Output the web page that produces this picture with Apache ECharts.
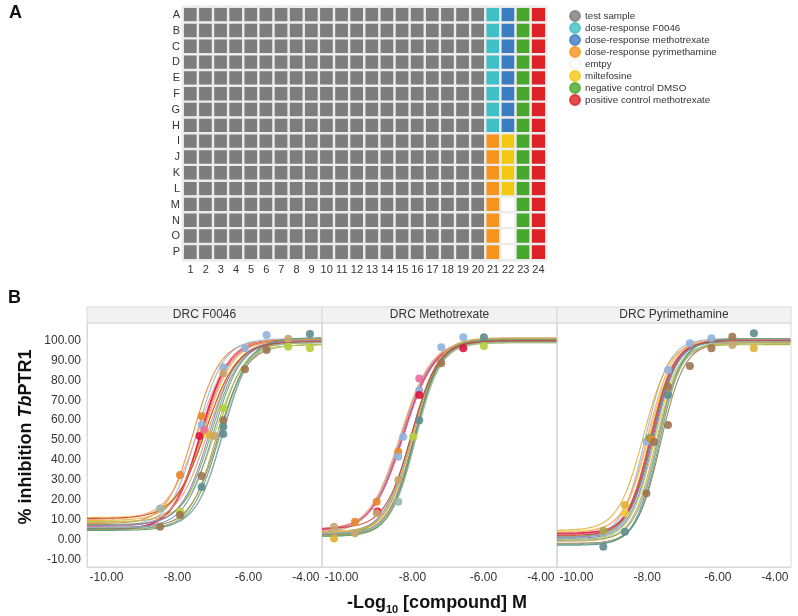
<!DOCTYPE html>
<html><head><meta charset="utf-8">
<script src="https://cdn.jsdelivr.net/npm/echarts@6/dist/echarts.min.js"></script>
<style>html,body{margin:0;padding:0;background:#fff}#c{width:798px;height:616px}</style>
</head><body><div id="c"></div>
<script>
// ================= Panel A : 384-well plate layout =================
const plateRows = ['A','B','C','D','E','F','G','H','I','J','K','L','M','N','O','P'];
const plateCols = ['1','2','3','4','5','6','7','8','9','10','11','12','13','14','15','16','17','18','19','20','21','22','23','24'];
const plateCategories = ['test sample','dose-response F0046','dose-response methotrexate','dose-response pyrimethamine','emtpy','miltefosine','negative control DMSO','positive control methotrexate'];
// one string per row, one code per column: T test, F F0046, M methotrexate DRC, P pyrimethamine DRC, E empty, L miltefosine, N DMSO, X positive control
const plateLayout = [
  'TTTTTTTTTTTTTTTTTTTTFMNX','TTTTTTTTTTTTTTTTTTTTFMNX','TTTTTTTTTTTTTTTTTTTTFMNX','TTTTTTTTTTTTTTTTTTTTFMNX',
  'TTTTTTTTTTTTTTTTTTTTFMNX','TTTTTTTTTTTTTTTTTTTTFMNX','TTTTTTTTTTTTTTTTTTTTFMNX','TTTTTTTTTTTTTTTTTTTTFMNX',
  'TTTTTTTTTTTTTTTTTTTTPLNX','TTTTTTTTTTTTTTTTTTTTPLNX','TTTTTTTTTTTTTTTTTTTTPLNX','TTTTTTTTTTTTTTTTTTTTPLNX',
  'TTTTTTTTTTTTTTTTTTTTPENX','TTTTTTTTTTTTTTTTTTTTPENX','TTTTTTTTTTTTTTTTTTTTPENX','TTTTTTTTTTTTTTTTTTTTPENX'
];
const layoutCodes = ['T','F','M','P','E','L','N','X'];

// ================= Panel B : dose-response curves =================
const panelTitles = ['DRC F0046','DRC Methotrexate','DRC Pyrimethamine'];
const xTickValues = [-10, -8, -6, -4];
const yTickValues = [-10, 0, 10, 20, 30, 40, 50, 60, 70, 80, 90, 100];

// fitted 4-parameter logistic curves (bottom, top, logIC50, hill)
const f0046Bottom  = [8, 5, 7, 6, 5.5, 9, 11, 6.5, 7.5, 8.5, 10, 6, 5, 9.5, 7, 4.5, 10.5, 6];
const f0046Top     = [100, 100.5, 101, 98, 101, 98, 100, 100, 99.5, 99, 101, 100, 99, 100.5, 100, 101.5, 99.5, 99];
const f0046LogIC50 = [-7.55, -7.35, -7.45, -6.85, -6.72, -6.95, -7.2, -7.3, -7.05, -7.15, -7.4, -7.0, -6.9, -7.25, -7.1, -6.8, -7.2, -6.75];
const f0046Hill    = [1.15, 1.1, 1.15, 1.1, 1.15, 1.05, 1.0, 1.1, 1.1, 1.05, 1.0, 1.1, 1.15, 1.05, 1.1, 1.1, 1.0, 1.2];

const mtxBottom  = [3, 4.5, 3.5, 2, 2.5, 1.5, 3, 5, 2.5, 4, 4, 3, 2, 3.5, 2.5, 1.5, 5.5, 3];
const mtxTop     = [100.5, 100, 101, 100, 101, 99, 100.5, 100, 99.5, 101.5, 100, 100, 99.5, 101, 100, 100.5, 100, 99];
const mtxLogIC50 = [-8.33, -8.27, -8.3, -7.95, -7.93, -7.97, -8.0, -8.25, -8.02, -7.98, -8.35, -8.05, -7.92, -8.0, -7.96, -7.94, -8.03, -7.9];
const mtxHill    = [1.0, 1.0, 0.98, 1.2, 1.25, 1.2, 1.2, 1.0, 1.15, 1.2, 1.0, 1.15, 1.25, 1.2, 1.2, 1.25, 1.15, 1.25];

const pyrBottom  = [2, 3, 1, -2, -3, 0, 4, 2.5, 1.5, -1, 3.5, 0.5, -0.5, 4.5, 1, -2.5, 2, 0];
const pyrTop     = [100, 100, 101, 99, 100.5, 98.5, 100, 100.5, 99.5, 99, 101, 100, 98, 100, 100, 101, 100, 99.5];
const pyrLogIC50 = [-7.92, -7.85, -8.05, -7.62, -7.7, -7.8, -7.95, -7.9, -7.88, -7.75, -7.98, -7.82, -7.72, -8.1, -7.86, -7.65, -7.9, -7.68];
const pyrHill    = [1.3, 1.3, 1.3, 1.3, 1.35, 1.3, 1.25, 1.3, 1.3, 1.3, 1.25, 1.3, 1.35, 1.2, 1.3, 1.35, 1.3, 1.3];

// visible measured points / IC50 markers: [log10 conc, % inhibition, curve index]
const f0046Points = [
  [-8.49, 15.6, 17], [-8.49, 6.4, 3], [-7.93, 32.4, 0], [-7.93, 14, 5], [-7.93, 12.3, 3],
  [-7.32, 62, 0], [-7.32, 57.6, 2], [-7.32, 53, 6], [-7.38, 52, 1], [-7.25, 55, 7],
  [-7.32, 31.9, 3], [-7.32, 26.4, 4], [-7.1, 52.5, 13], [-6.95, 52, 9],
  [-6.71, 86.6, 2], [-6.71, 83.6, 9], [-6.71, 66, 5], [-6.71, 60, 3], [-6.71, 56.7, 4], [-6.71, 53, 4],
  [-6.10, 96.2, 2], [-6.10, 85.6, 3], [-5.49, 102.9, 2], [-5.49, 95.3, 3],
  [-4.88, 101, 9], [-4.88, 97, 5], [-4.27, 103.4, 4], [-4.27, 96.2, 5]
];
const mtxPoints = [
  [-10.21, 6.4, 9], [-10.21, 0.5, 13], [-9.62, 8.9, 0], [-9.62, 3.1, 9],
  [-9.01, 19, 0], [-8.99, 14, 1], [-9.01, 13.1, 9],
  [-8.40, 44.1, 0], [-8.40, 41.6, 2], [-8.40, 29.9, 9], [-8.40, 19, 17],
  [-8.26, 51.7, 2], [-7.98, 51.7, 5],
  [-7.81, 81, 7], [-7.81, 75, 2], [-7.81, 72.7, 1], [-7.81, 60, 4],
  [-7.19, 96.7, 2], [-7.19, 88.6, 3], [-6.57, 101.7, 2], [-6.57, 96.2, 1],
  [-5.99, 101.7, 4], [-5.99, 97.3, 5]
];
const pyrPoints = [
  [-9.24, 4.4, 12], [-9.24, -3.7, 4], [-8.63, 17.3, 13], [-8.63, 13.1, 6], [-8.63, 3.9, 4],
  [-8.02, 49.2, 2], [-7.93, 51, 8], [-7.88, 50.5, 0], [-7.8, 49, 3], [-8.02, 23.2, 3],
  [-7.41, 85.3, 2], [-7.41, 76.8, 3], [-7.41, 72.7, 4], [-7.41, 57.6, 3],
  [-6.79, 98.7, 2], [-6.79, 87.3, 3], [-6.18, 101.2, 2], [-6.18, 96.2, 3],
  [-5.59, 102, 3], [-5.59, 97.8, 9], [-4.98, 103.7, 4], [-4.98, 96.2, 13]
];

// ================= styles =================
const FONT = '"Liberation Sans", Arial, sans-serif';
const plateColors = ['#7d7d7d', '#3fbfc6', '#3c7dbf', '#f7941d', '#ffffff', '#f2c811', '#48a82d', '#dc2127'];
const curveColors = ['#e8872a', '#dc143c', '#8fb4dc', '#9c7650', '#5f8c8e', '#b5cf3a', '#f0c93a', '#ea6a9a', '#6aa84f',
                     '#c9a46e', '#f4a27a', '#6a8fc0', '#a8a84a', '#e0b030', '#9a7ab0', '#4f9a7a', '#c8423e', '#9ab8a8'];
const X_MIN = -10.55, X_MAX = -3.93, Y_MIN = -13.9, Y_MAX = 108.9;
const panelBoxes = [{left: 87, width: 235}, {left: 322, width: 235}, {left: 557, width: 234}];
const PANEL_TOP = 323, PANEL_H = 244;

// ================= build options =================
const heatData = [];
plateLayout.forEach((row, r) => {
  for (let c = 0; c < row.length; c++) heatData.push([c, r, layoutCodes.indexOf(row[c])]);
});

const grids = [{left: 183, top: 7, width: 363, height: 253}];
const xAxes = [{
  type: 'category', data: plateCols, gridIndex: 0, position: 'bottom',
  axisLine: {show: false}, axisTick: {show: false}, splitLine: {show: false},
  axisLabel: {fontSize: 11, color: '#333', margin: 4, fontFamily: FONT, interval: 0}
}];
const yAxes = [{
  type: 'category', data: plateRows, gridIndex: 0, inverse: true,
  axisLine: {show: false}, axisTick: {show: false}, splitLine: {show: false},
  axisLabel: {fontSize: 11, color: '#333', margin: 3, fontFamily: FONT, interval: 0}
}];
const series = [{
  type: 'heatmap', xAxisIndex: 0, yAxisIndex: 0, data: heatData,
  itemStyle: {borderColor: '#ececec', borderWidth: 2.4},
  emphasis: {disabled: true}, silent: true
}];
// legend entries (empty series, only for the legend)
plateCategories.forEach((name, i) => {
  series.push({
    type: 'scatter', name: name, xAxisIndex: 0, yAxisIndex: 0, data: [],
    itemStyle: {color: plateColors[i], borderColor: i === 4 ? '#eeeeee' : plateColors[i], borderWidth: 1}
  });
});

const panels = [
  {bottom: f0046Bottom, top: f0046Top, ic50: f0046LogIC50, hill: f0046Hill, points: f0046Points},
  {bottom: mtxBottom, top: mtxTop, ic50: mtxLogIC50, hill: mtxHill, points: mtxPoints},
  {bottom: pyrBottom, top: pyrTop, ic50: pyrLogIC50, hill: pyrHill, points: pyrPoints}
];
const graphics = [
  {type: 'text', left: 9, top: 4, style: {text: 'A', font: 'bold 18px ' + FONT, fill: '#111'}},
  {type: 'text', left: 8, top: 289, style: {text: 'B', font: 'bold 18px ' + FONT, fill: '#111'}}
];

panels.forEach((p, k) => {
  const gi = k + 1;
  const box = panelBoxes[k];
  grids.push({left: box.left, top: PANEL_TOP, width: box.width, height: PANEL_H,
              show: true, borderColor: '#d9d9d9', borderWidth: 1, backgroundColor: '#fff'});
  xAxes.push({
    type: 'value', gridIndex: gi, min: X_MIN, max: X_MAX,
    axisLine: {show: true, onZero: false, lineStyle: {color: '#d9d9d9'}}, axisTick: {show: false}, splitLine: {show: false},
    axisLabel: {customValues: xTickValues, formatter: v => v.toFixed(2), fontSize: 12, color: '#333',
                margin: 5, fontFamily: FONT, alignMaxLabel: 'right'}
  });
  yAxes.push({
    type: 'value', gridIndex: gi, min: Y_MIN, max: Y_MAX,
    axisLine: {show: true, onZero: false, lineStyle: {color: '#d9d9d9'}}, axisTick: {show: false}, splitLine: {show: false},
    axisLabel: k === 0 ? {customValues: yTickValues, formatter: v => v.toFixed(2), fontSize: 12, color: '#333',
                          margin: 6, fontFamily: FONT} : {show: false}
  });
  // fitted curves: evaluate each curve's 4PL model across the axis range
  p.bottom.forEach((b, i) => {
    const pts = [];
    for (let x = X_MIN; x <= X_MAX + 1e-9; x += 0.04) {
      const y = b + (p.top[i] - b) / (1 + Math.pow(10, p.hill[i] * (p.ic50[i] - x)));
      pts.push([x, y]);
    }
    series.push({
      type: 'line', xAxisIndex: gi, yAxisIndex: gi, data: pts, showSymbol: false, silent: true,
      lineStyle: {color: curveColors[i], width: (i === 1 ? 2 : 1.1), opacity: 0.9}, z: 2
    });
  });
  series.push({
    type: 'scatter', xAxisIndex: gi, yAxisIndex: gi, symbolSize: 8, silent: true, z: 3,
    data: p.points.map(d => ({value: [d[0], d[1]], itemStyle: {color: curveColors[d[2]], opacity: 0.9}}))
  });
  // panel header strip
  graphics.push({type: 'rect', shape: {x: box.left, y: 307, width: box.width, height: 16},
                 style: {fill: '#f2f2f2', stroke: '#d9d9d9', lineWidth: 1}, silent: true});
  graphics.push({type: 'text', x: box.left + box.width / 2, y: 315,
                 style: {text: panelTitles[k], font: '12px ' + FONT, fill: '#333', align: 'center', verticalAlign: 'middle'}});
});

graphics.push({
  type: 'text', x: 26, y: 437, rotation: Math.PI / 2,
  style: {
    text: '{n|% inhibition }{i|Tb}{n|PTR1}', align: 'center', verticalAlign: 'middle',
    rich: {n: {font: 'bold 18px ' + FONT, fill: '#111'}, i: {font: 'italic bold 18px ' + FONT, fill: '#111'}}
  }
});
graphics.push({
  type: 'text', x: 437, y: 603,
  style: {
    text: '{n|-Log}{s|10}{n| [compound] M}', align: 'center', verticalAlign: 'middle',
    rich: {n: {font: 'bold 18px ' + FONT, fill: '#111', lineHeight: 24},
           s: {font: 'bold 11px ' + FONT, fill: '#111', verticalAlign: 'bottom', lineHeight: 24, padding: [8, 0, 0, 0]}}
  }
});

const option = {
  animation: false,
  backgroundColor: '#ffffff',
  textStyle: {fontFamily: FONT},
  grid: grids.map(g => Object.assign({outerBoundsMode: 'none'}, g)),
  xAxis: xAxes,
  yAxis: yAxes,
  visualMap: {
    type: 'piecewise', show: false, seriesIndex: 0, dimension: 2,
    pieces: plateColors.map((c, i) => ({value: i, color: c}))
  },
  legend: {
    orient: 'vertical', left: 569, top: 10, itemWidth: 10, itemHeight: 10, itemGap: 0, icon: 'circle',
    padding: 0, textStyle: {fontSize: 9.8, lineHeight: 10, color: '#333', fontFamily: FONT},
    data: plateCategories, selectedMode: false
  },
  graphic: graphics,
  series: series
};

const chart = echarts.init(document.getElementById('c'), null, {renderer: 'canvas'});
chart.setOption(option);
</script>
</body></html>
